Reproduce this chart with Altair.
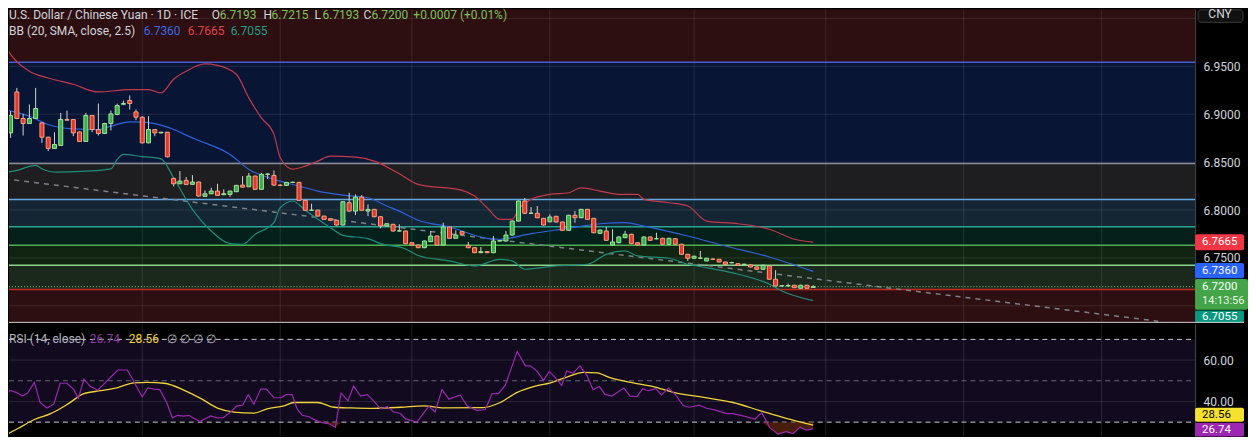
import altair as alt
import pandas as pd

# ---------------- candles (daily USD/CNY) ----------------
opens = [6.8573,6.8805,6.9232,6.8955,6.8903,6.8955,6.8909,6.8760,6.8643,6.8674,
         6.8945,6.8945,6.8815,6.8716,6.8986,6.8840,6.8799,6.8903,6.8997,6.9104,
         6.9143,6.9024,6.8969,6.8701,6.8840,6.8805,6.8812,6.8330,6.8274,6.8309,
         6.8268,6.8292,6.8143,6.8170,6.8198,6.8160,6.8163,6.8191,6.8260,6.8243,
         6.8354,6.8216,6.8372,6.8361,6.8260,6.8257,6.8288,6.8288,6.8101,6.7997,
         6.7999,6.7937,6.7909,6.7893,6.7844,6.8076,6.7989,6.8135,6.7989,6.8007,
         6.7930,6.7833,6.7851,6.7781,6.7781,6.7659,6.7635,6.7607,6.7670,6.7729,
         6.7635,6.7823,6.7705,6.7774,6.7632,6.7607,6.7555,6.7566,6.7555,6.7677,
         6.7677,6.7739,6.7885,6.8094,6.7966,6.7966,6.7913,6.7878,6.7934,6.7875,
         6.7788,6.7945,6.7920,6.8007,6.7913,6.7757,6.7781,6.7635,6.7659,6.7711,
         6.7747,6.7659,6.7635,6.7719,6.7699,6.7705,6.7643,6.7701,6.7643,6.7538,
         6.7497,6.7497,6.7469,6.7488,6.7486,6.7458,6.7450,6.7440,6.7433,6.7427,
         6.7406,6.7382,6.7417,6.7278,6.7208,6.7208,6.7215,6.7184,6.7215,6.7193]
highs = [6.8851,6.9031,6.9274,6.9003,6.9101,6.9274,6.8915,6.8765,6.8812,6.9013,
         6.9038,6.8950,6.8820,6.9013,6.8990,6.9111,6.8910,6.9038,6.9111,6.9143,
         6.9195,6.9049,6.8979,6.8979,6.8845,6.8815,6.8815,6.8335,6.8406,6.8344,
         6.8364,6.8297,6.8205,6.8232,6.8274,6.8216,6.8200,6.8262,6.8354,6.8388,
         6.8360,6.8388,6.8385,6.8413,6.8268,6.8292,6.8295,6.8295,6.8105,6.8066,
         6.8003,6.7940,6.7912,6.7898,6.8090,6.8180,6.8163,6.8156,6.8059,6.8012,
         6.7935,6.7862,6.7856,6.7851,6.7786,6.7663,6.7640,6.7682,6.7781,6.7734,
         6.7868,6.7828,6.7788,6.7780,6.7667,6.7612,6.7614,6.7570,6.7729,6.7682,
         6.7781,6.7890,6.8099,6.8125,6.8031,6.8042,6.7918,6.7955,6.7940,6.7880,
         6.7950,6.7989,6.8012,6.8012,6.7918,6.7796,6.7823,6.7799,6.7724,6.7781,
         6.7752,6.7663,6.7724,6.7724,6.7763,6.7710,6.7710,6.7706,6.7648,6.7543,
         6.7523,6.7573,6.7502,6.7495,6.7490,6.7462,6.7460,6.7445,6.7440,6.7432,
         6.7411,6.7429,6.7422,6.7372,6.7215,6.7232,6.7220,6.7220,6.7220,6.7215]
lows  = [6.8552,6.8753,6.8948,6.8778,6.8903,6.8950,6.8701,6.8615,6.8638,6.8670,
         6.8935,6.8771,6.8710,6.8710,6.8812,6.8778,6.8795,6.8830,6.8990,6.9094,
         6.9049,6.8937,6.8695,6.8695,6.8771,6.8800,6.8550,6.8247,6.8270,6.8260,
         6.8265,6.8140,6.8140,6.8165,6.8150,6.8155,6.8138,6.8187,6.8235,6.8240,
         6.8210,6.8210,6.8323,6.8255,6.8250,6.8255,6.8283,6.8095,6.7990,6.7992,
         6.7932,6.7898,6.7888,6.7838,6.7838,6.7985,6.7948,6.7992,6.7937,6.7925,
         6.7809,6.7828,6.7776,6.7776,6.7644,6.7630,6.7602,6.7602,6.7665,6.7630,
         6.7630,6.7700,6.7700,6.7742,6.7602,6.7550,6.7550,6.7550,6.7550,6.7670,
         6.7672,6.7734,6.7880,6.7960,6.7960,6.7915,6.7838,6.7873,6.7870,6.7783,
         6.7783,6.7868,6.7915,6.7898,6.7758,6.7752,6.7679,6.7630,6.7654,6.7706,
         6.7644,6.7630,6.7630,6.7679,6.7694,6.7638,6.7638,6.7638,6.7533,6.7469,
         6.7492,6.7492,6.7464,6.7480,6.7453,6.7429,6.7445,6.7419,6.7428,6.7401,
         6.7377,6.7377,6.7273,6.7203,6.7203,6.7203,6.7185,6.7180,6.7180,6.7193]
closes = [6.8805,6.8986,6.8955,6.8903,6.8955,6.9059,6.8760,6.8643,6.8684,6.8945,
          6.8937,6.8805,6.8716,6.8986,6.8840,6.8799,6.8903,6.9003,6.9090,6.9111,
          6.9111,6.8969,6.8701,6.8840,6.8805,6.8812,6.8555,6.8274,6.8302,6.8268,
          6.8292,6.8146,6.8170,6.8198,6.8153,6.8170,6.8198,6.8257,6.8239,6.8354,
          6.8216,6.8372,6.8375,6.8260,6.8257,6.8288,6.8290,6.8101,6.7997,6.7999,
          6.7937,6.7903,6.7893,6.7844,6.8086,6.7989,6.8135,6.7997,6.8007,6.7930,
          6.7833,6.7857,6.7781,6.7783,6.7649,6.7635,6.7607,6.7677,6.7729,6.7635,
          6.7823,6.7705,6.7739,6.7747,6.7607,6.7555,6.7566,6.7555,6.7677,6.7679,
          6.7739,6.7885,6.8094,6.7966,6.7968,6.7920,6.7844,6.7927,6.7875,6.7788,
          6.7945,6.7920,6.8007,6.7903,6.7763,6.7791,6.7684,6.7667,6.7719,6.7747,
          6.7649,6.7635,6.7719,6.7684,6.7701,6.7643,6.7705,6.7643,6.7538,6.7497,
          6.7518,6.7499,6.7497,6.7486,6.7458,6.7434,6.7451,6.7424,6.7434,6.7406,
          6.7382,6.7424,6.7278,6.7208,6.7210,6.7212,6.7190,6.7215,6.7184,6.7200]

# ---------------- Bollinger Bands (20, SMA, close, 2.5) ----------------
upper_idx = [0,1,4,7,11,15,20,23,25,27,29,32,34,37,39,41,43,44,46,48,50,52,56,59,63,66,73,75,77,79,
             81,82,84,87,90,92,95,98,101,102,106,109,112,117,122,126,129]
upper_val = [6.9729,6.9625,6.9448,6.9378,6.9312,6.9232,6.9257,6.9257,6.9222,6.9365,
             6.9448,6.9524,6.9510,6.9417,6.9170,6.8961,6.8792,6.8545,6.8427,6.8458,
             6.8510,6.8562,6.8552,6.8510,6.8378,6.8268,6.8205,6.8146,6.8024,6.7903,
             6.7903,6.8007,6.8111,6.8163,6.8180,6.8232,6.8198,6.8163,6.8163,6.8111,
             6.8076,6.8042,6.7885,6.7857,6.7799,6.7695,6.7665]
middle_idx = [0,4,7,11,15,17,20,22,26,27,30,31,36,39,43,47,50,54,58,61,63,66,71,77,79,84,90,95,99,102,
              109,115,122,129]
middle_val = [6.9049,6.8979,6.8893,6.8847,6.8840,6.8875,6.8920,6.8917,6.8865,6.8840,
              6.8753,6.8726,6.8580,6.8424,6.8320,6.8250,6.8198,6.8156,6.8128,6.8042,
              6.7989,6.7893,6.7823,6.7705,6.7695,6.7753,6.7809,6.7857,6.7868,6.7833,
              6.7729,6.7625,6.7510,6.7360]
lower_idx = [0,2,5,6,8,13,17,18,19,22,25,27,30,33,36,38,40,43,44,46,48,52,54,58,60,64,66,71,75,79,
             81,83,88,93,96,99,101,106,109,112,116,122,124,129]
lower_val = [6.8388,6.8413,6.8466,6.8430,6.8396,6.8406,6.8430,6.8528,6.8580,6.8557,
             6.8534,6.8336,6.8007,6.7781,6.7649,6.7643,6.7747,6.7868,6.8024,6.8094,
             6.7997,6.7816,6.7736,6.7701,6.7649,6.7594,6.7526,6.7469,6.7417,6.7486,
             6.7469,6.7382,6.7417,6.7434,6.7538,6.7573,6.7521,6.7497,6.7434,6.7399,
             6.7347,6.7226,6.7156,6.7055]

# ---------------- drawing tools ----------------
fib_levels = [6.9542, 6.8486, 6.8111, 6.7826, 6.7632, 6.7424, 6.7170]
trend_idx = [0, 184]
trend_price = [6.8326, 6.6840]
last_price = 6.7200
month_idx = [22, 44, 65, 87, 110, 131, 153, 175]
price_ticks = [6.70, 6.75, 6.80, 6.85, 6.90, 6.95, 7.00]
price_labels = [6.75, 6.80, 6.85, 6.90, 6.95]

# ---------------- RSI (14, close) and its MA ----------------
rsi_idx = [-0.5,0.8,1.9,2.9,3.7,4.8,5.7,6.8,7.9,8.9,
           10.0,11.1,11.8,12.7,13.7,14.9,15.9,17.0,18.1,19.6,
           20.4,21.2,22.0,22.9,23.9,24.8,25.9,26.8,27.6,28.6,
           29.4,30.3,31.2,32.1,32.9,34.0,34.9,36.1,37.1,38.0,
           38.9,39.8,40.9,41.8,43.0,44.1,45.0,45.9,46.7,47.5,
           48.6,49.6,50.7,51.8,52.8,53.7,54.8,55.7,56.8,57.9,
           58.9,60.0,61.1,62.1,63.2,64.0,65.8,67.7,68.7,69.8,
           70.9,72.7,73.8,75.4,76.7,77.8,78.8,79.9,81.8,83.1,
           83.9,84.9,86.0,86.9,87.8,88.9,89.7,90.7,91.8,92.9,
           93.9,94.9,95.8,96.9,97.8,98.8,99.8,100.9,101.8,102.7,
           103.9,104.8,105.9,107.0,108.3,109.3,110.8,112.0,113.3,115.2,
           116.2,117.8,119.7,120.8,122.1,123.4,124.7,125.8,126.9,127.9,
           129.0]
rsi_val = [31.8,45.4,44.4,42.6,44.1,49.2,39.5,36.8,38.7,48.8,
           48.8,45.7,41.4,50.8,47.3,45.4,48.5,51.8,55.2,55.2,
           51.1,46.5,42.2,46.5,46.0,45.7,39.5,32.1,33.3,32.9,
           33.3,31.8,30.3,31.8,33.0,32.1,32.2,34.9,37.9,38.2,
           43.3,38.7,46.0,46.0,41.8,41.8,43.3,43.3,36.4,33.3,
           32.6,31.0,29.8,29.2,27.5,44.1,40.3,47.5,42.6,43.3,
           40.3,36.4,37.5,34.9,34.2,31.6,30.0,37.7,34.9,45.7,
           41.1,43.1,37.9,35.6,36.1,43.8,43.8,47.9,64.2,57.2,
           57.2,54.8,50.2,54.5,51.8,47.7,54.8,53.6,57.2,52.6,
           45.7,47.2,43.4,42.6,44.4,46.5,42.6,42.3,46.2,45.2,
           46.2,43.2,46.5,43.4,37.9,37.2,38.2,36.7,35.9,34.1,
           34.1,33.0,31.5,34.6,27.2,24.2,25.4,24.5,27.6,26.2,
           26.74]
ma_idx = [-0.5,2.1,4.8,7.4,10.1,12.7,15.4,18.1,20.7,22.8,
          25.5,28.7,31.3,34.0,36.6,39.8,41.9,44.6,46.2,49.9,
          52.6,55.2,58.9,63.2,66.9,70.1,76.4,79.1,81.8,84.4,
          87.1,89.7,92.4,94.5,96.6,100.3,103.5,106.7,110.9,116.2,
          120.5,124.7,129.0]
ma_val = [22.6,26.8,31.3,34.1,38.7,43.8,45.2,46.7,49.0,49.2,
          48.8,45.4,41.5,36.8,34.9,34.4,36.4,37.9,39.5,39.5,
          37.2,36.9,36.7,37.2,37.9,36.9,37.0,39.5,44.4,47.2,
          49.0,51.8,54.1,53.8,51.5,49.0,47.2,44.4,42.3,39.5,
          35.6,31.8,28.56]
rsi_levels = [70, 50, 30]
rsi_ticks = [40, 60]

# ---------------- layout / style ----------------
W, H_MAIN, H_RSI = 1188, 314, 113
FONT = "Roboto"
TXT = "#d1d4dc"
TAG_FS = 11.5

xs = alt.Scale(domain=[0.748, 189.9], nice=False, zero=False, padding=0)
ys = alt.Scale(domain=[6.6823, 7.0094], nice=False, zero=False, padding=0)
rs = alt.Scale(domain=[23.0, 77.5], nice=False, zero=False, padding=0)

yaxis = alt.Axis(orient="right", values=price_labels, format=".4f",
                 labelColor=TXT, labelFont=FONT, labelFontSize=12, labelPadding=8,
                 ticks=False, grid=False, domain=True, domainColor="#4a4a4a", title=None,
                 labelOverlap=False, labelFlush=False)
raxis = alt.Axis(orient="right", values=rsi_ticks, format=".2f",
                 labelColor=TXT, labelFont=FONT, labelFontSize=12, labelPadding=8,
                 ticks=False, grid=False, domain=True, domainColor="#4a4a4a", title=None,
                 labelOverlap=False, labelFlush=False)


def X(f):
    return alt.X(f, type="quantitative", scale=xs, axis=None)


def Y(f):
    return alt.Y(f, type="quantitative", scale=ys, axis=yaxis)


def R(f):
    return alt.Y(f, type="quantitative", scale=rs, axis=raxis)


def one(**kw):
    return alt.Chart(pd.DataFrame({k: [v] for k, v in kw.items()}))


def text(s, x, y, color, size=12, weight="normal"):
    return one(t=s).mark_text(align="left", baseline="middle", font=FONT, fontSize=size,
                              color=color, fontWeight=weight).encode(
        x=alt.value(x), y=alt.value(y), text="t:N")


# ---------------- main panel ----------------
zone_top = [ys.domain[1]] + fib_levels
zone_bot = fib_levels + [ys.domain[0]]
zone_col = ["#2d0e11", "#081534", "#1e1e20", "#142534", "#03211a", "#112411", "#1b291c", "#2d0e11"]
zones = alt.Chart(pd.DataFrame({"a": zone_top, "b": zone_bot, "c": zone_col})).mark_rect().encode(
    y=Y("a"), y2="b", x=alt.value(0), x2=alt.value(W), color=alt.Color("c:N", scale=None))

hgrid = alt.Chart(pd.DataFrame({"v": price_ticks})).mark_rule(
    color="#ffffff", opacity=0.1, strokeWidth=1).encode(y=Y("v"), x=alt.value(0), x2=alt.value(W))
vgrid = alt.Chart(pd.DataFrame({"i": month_idx})).mark_rule(
    color="#ffffff", opacity=0.1, strokeWidth=1, clip=True).encode(x=X("i"))

fib_col = ["#4a5bd4", "#8c8f99", "#64a8e0", "#2ea394", "#4caf50", "#8bd48b", "#c62828"]
fib = alt.Chart(pd.DataFrame({"v": fib_levels, "c": fib_col})).mark_rule(strokeWidth=1.5).encode(
    y=Y("v"), x=alt.value(0), x2=alt.value(W), color=alt.Color("c:N", scale=None))

trend = alt.Chart(pd.DataFrame({"i": trend_idx, "p": trend_price})).mark_line(
    color="#7d8089", strokeWidth=1.5, strokeDash=[5, 5], clip=True).encode(x=X("i"), y=Y("p"))


def band(idx, val, color):
    return alt.Chart(pd.DataFrame({"i": idx, "p": val})).mark_line(
        color=color, strokeWidth=1.2, interpolate="monotone", clip=True).encode(x=X("i"), y=Y("p"))


bands = band(upper_idx, upper_val, "#c23a4c") + band(middle_idx, middle_val, "#2f62dd") + \
    band(lower_idx, lower_val, "#1f8d7b")

lastline = one(p=last_price).mark_rule(color="#8fd08f", strokeWidth=1, strokeDash=[1, 2]).encode(
    y=Y("p"), x=alt.value(0), x2=alt.value(W))

cdf = pd.DataFrame({"i": list(range(len(opens))), "o": opens, "h": highs, "l": lows, "c": closes})
is_up = "datum.c >= datum.o"
wicks = alt.Chart(cdf).mark_rule(color="#d4d4d4", strokeWidth=1, clip=True).encode(
    x=X("i"), y=Y("l"), y2="h")
bodies = alt.Chart(cdf).mark_bar(size=4, strokeWidth=1, clip=True).encode(
    x=X("i"), y=Y("o"), y2="c",
    fill=alt.condition(is_up, alt.value("#3fae49"), alt.value("#e2392c")),
    stroke=alt.condition(is_up, alt.value("#a0e6a0"), alt.value("#ff9f80")))

GREEN_TXT = "#7bc35c"
legend_main = alt.layer(
    text("U.S. Dollar / Chinese Yuan · 1D · ICE", 0, 6, TXT),
    text("O", 203, 6, TXT), text("6.7193", 211, 6, GREEN_TXT),
    text("H", 255, 6, TXT), text("6.7215", 263, 6, GREEN_TXT),
    text("L", 306, 6, TXT), text("6.7193", 314, 6, GREEN_TXT),
    text("C", 355, 6, TXT), text("6.7200", 363, 6, GREEN_TXT),
    text("+0.0007 (+0.01%)", 405, 6, GREEN_TXT),
    text("BB (20, SMA, close, 2.5)", 0, 22, TXT),
    text("6.7360", 135, 22, "#3a6ae6"),
    text("6.7665", 179, 22, "#e0424f"),
    text("6.7055", 222, 22, "#1fa08a"),
)


def tag(value, label, bg, fg, top, bot, yscale_fn, dy=0, extra=None, wide=49):
    d = one(p=value, t=label)
    box = d.mark_rect(color=bg, yOffset=top, y2Offset=bot, cornerRadius=2).encode(
        x=alt.value(W), x2=alt.value(W + wide), y=yscale_fn("p"), y2="p")
    txt = d.mark_text(align="left", baseline="middle", font=FONT, fontSize=TAG_FS, color=fg, dy=dy).encode(
        x=alt.value(W + 7), y=yscale_fn("p"), text="t:N")
    layers = [box, txt]
    if extra is not None:
        layers.append(one(p=value, t=extra).mark_text(
            align="left", baseline="middle", font=FONT, fontSize=TAG_FS - 0.5, color="#e8f5e9",
            dy=dy + 14.5).encode(x=alt.value(W + 7), y=yscale_fn("p"), text="t:N"))
    return alt.layer(*layers)


tags_main = alt.layer(
    tag(6.7665, "6.7665", "#f23645", "#ffffff", -8, 8, Y),
    tag(6.7360, "6.7360", "#2962ff", "#ffffff", -8.5, 7, Y),
    tag(last_price, "6.7200", "#43a548", "#ffffff", -7.8, 23.2, Y, 0, "14:13:56", wide=53),
    tag(6.7055, "6.7055", "#089981", "#ffffff", 9.8, 22.3, Y, 16.5),
)

cny = alt.layer(
    one(a=0).mark_rect(fill="#111111", stroke="#3c3c3c", strokeWidth=1, cornerRadius=3).encode(
        x=alt.value(W + 3), x2=alt.value(W + 48), y=alt.value(0.5), y2=alt.value(13)),
    one(t="CNY").mark_text(align="center", baseline="middle", font=FONT, fontSize=12, color=TXT).encode(
        x=alt.value(W + 25), y=alt.value(5), text="t:N"),
)

sep = one(a=0).mark_rule(color="#d0d0d0", strokeWidth=1).encode(
    x=alt.value(0), x2=alt.value(W + 49), y=alt.value(H_MAIN - 0.5))

main = alt.layer(zones, hgrid, vgrid, fib, trend, bands, lastline, wicks, bodies,
                 legend_main, tags_main, cny, sep).properties(width=W, height=H_MAIN)

# ---------------- RSI panel ----------------
rsi_bg = one(a=70, b=30).mark_rect(color="#120a1e").encode(
    y=R("a"), y2="b", x=alt.value(0), x2=alt.value(W))
rgrid_h = alt.Chart(pd.DataFrame({"v": rsi_ticks})).mark_rule(
    color="#ffffff", opacity=0.12).encode(y=R("v"), x=alt.value(0), x2=alt.value(W))
rgrid_v = alt.Chart(pd.DataFrame({"i": month_idx})).mark_rule(
    color="#ffffff", opacity=0.12, clip=True).encode(x=X("i"))
rlev = alt.Chart(pd.DataFrame({"v": rsi_levels, "c": ["#c9c9c9", "#6a6a78", "#c9c9c9"]})).mark_rule(
    strokeDash=[5, 4], strokeWidth=1).encode(
    y=R("v"), x=alt.value(0), x2=alt.value(W), color=alt.Color("c:N", scale=None))

rdf = pd.DataFrame({"i": rsi_idx, "v": rsi_val})
oversold = alt.Chart(rdf).transform_calculate(lo="min(datum.v, 30)", top="30").mark_area(
    color="#5a2412", opacity=0.8, clip=True).encode(x=X("i"), y=R("lo:Q"), y2="top:Q")
ma_line = alt.Chart(pd.DataFrame({"i": ma_idx, "v": ma_val})).mark_line(
    color="#f0d43a", strokeWidth=1.3, interpolate="monotone", clip=True).encode(x=X("i"), y=R("v"))
rsi_line = alt.Chart(rdf).mark_line(color="#9c27b0", strokeWidth=1.2, clip=True).encode(
    x=X("i"), y=R("v"))

legend_rsi = alt.layer(
    text("RSI (14, close)", 0, 15, "#b2b5be"),
    text("26.74", 81, 15, "#8e3aa8"),
    text("28.56", 120, 15, "#f0d43a"),
    text("∅  ∅  ∅  ∅", 158, 15, "#b2b5be"),
)
tags_rsi = alt.layer(
    tag(28.56, "28.56", "#f5e12e", "#000000", -17.5, -3.5, R, -10.5),
    tag(26.74, "26.74", "#9c27b0", "#ffffff", -6.2, 7.7, R, 0.8),
)

rsi = alt.layer(rsi_bg, rgrid_h, rgrid_v, rlev, oversold, ma_line, rsi_line,
                legend_rsi, tags_rsi).properties(width=W, height=H_RSI)

chart = alt.vconcat(main, rsi, spacing=1, bounds="flush").properties(
    padding=0, background="#000000").configure_view(stroke=None)

chart.save("out.html", embed_options={"renderer": "svg", "actions": False})
